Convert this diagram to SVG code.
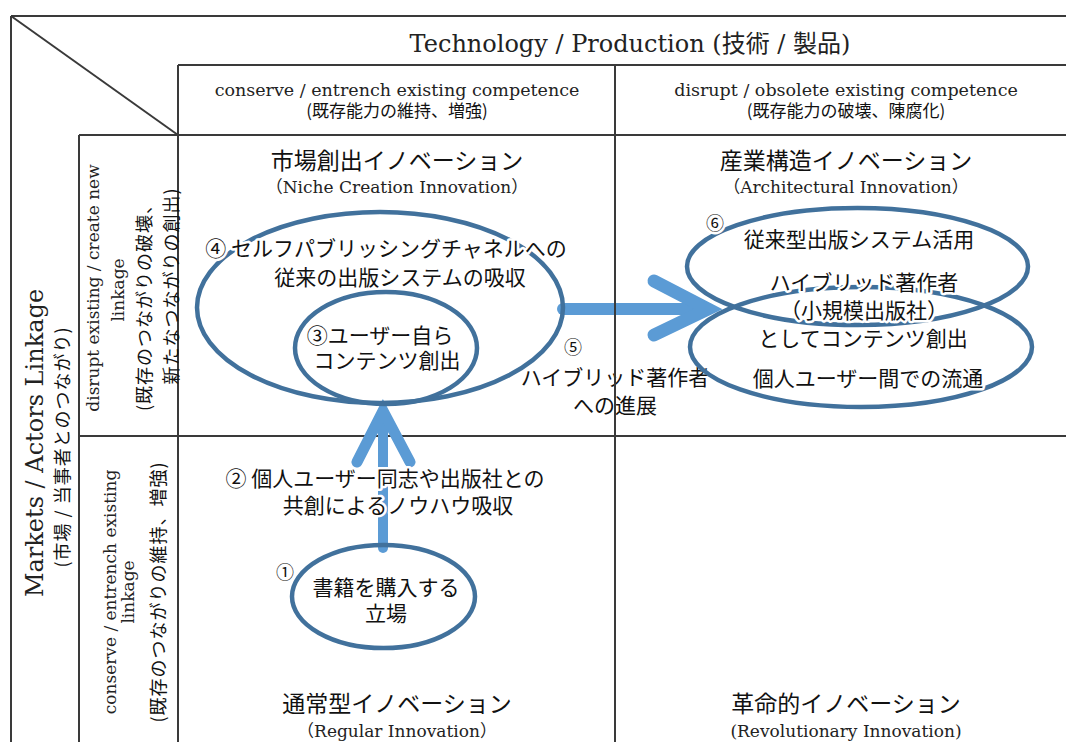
<svg xmlns="http://www.w3.org/2000/svg" width="1066" height="742" viewBox="0 0 1066 742">
<style>
.grid{stroke:#3a3a3a;stroke-width:2;fill:none}
.ser{font-family:"DejaVu Serif","Liberation Serif","Noto Sans CJK JP",serif;fill:#222}
.jp{font-family:"Noto Sans CJK JP","Noto Sans",sans-serif;fill:#111}
.mid{text-anchor:middle}
.ell{fill:none;stroke:#41719c;stroke-width:4.5}
.arr{fill:none;stroke:#5b9bd5;stroke-linecap:round;stroke-linejoin:miter}
.halo{stroke:#fff;stroke-width:5;stroke-linejoin:round;paint-order:stroke}
.sp{letter-spacing:1px}
</style>
<rect width="1066" height="742" fill="#fff"/>
<g id="grid-h">
<line class="grid" x1="11" y1="16" x2="1066" y2="16"/>
<line class="grid" x1="11" y1="16" x2="11" y2="742"/>
<line class="grid" x1="11" y1="16" x2="178" y2="135" stroke-width="1.6"/>
<line class="grid" x1="178" y1="65" x2="1066" y2="65"/>
<line class="grid" x1="79" y1="135" x2="1066" y2="135"/>
<line class="grid" x1="79" y1="436" x2="1066" y2="436"/>
<line class="grid" x1="79" y1="135" x2="79" y2="742"/>
<line class="grid" x1="178" y1="65" x2="178" y2="742"/>
</g>
<g id="headers">
<text class="ser mid" x="630" y="52" font-size="24">Technology / Production (技術 / 製品)</text>
<text class="ser mid" x="397" y="96" font-size="17.5">conserve / entrench existing competence</text>
<text class="jp mid" x="397" y="117" font-size="17">(既存能力の維持、増強)</text>
<text class="ser mid" x="846" y="96" font-size="17.5">disrupt / obsolete existing competence</text>
<text class="jp mid" x="846" y="117" font-size="17">(既存能力の破壊、陳腐化)</text>
<text class="ser mid" x="43" y="443" font-size="24" transform="rotate(-90 43 443)">Markets / Actors Linkage</text>
<text class="jp mid sp" x="69" y="447" font-size="18" transform="rotate(-90 69 447)">(市場 / 当事者とのつながり)</text>
<text class="ser mid" x="99" y="288" font-size="17" transform="rotate(-90 99 288)">disrupt existing / create new</text>
<text class="ser mid" x="124" y="290" font-size="17" transform="rotate(-90 124 290)">linkage</text>
<text class="jp mid sp" x="151" y="303" font-size="18" transform="rotate(-90 151 303)">(既存のつながりの破壊、</text>
<text class="jp mid sp" x="178" y="286" font-size="18" transform="rotate(-90 178 286)">新たなつながりの創出)</text>
<text class="ser mid" x="116" y="592" font-size="17" transform="rotate(-90 116 592)">conserve / entrench existing</text>
<text class="ser mid" x="134" y="592" font-size="17" transform="rotate(-90 134 592)">linkage</text>
<text class="jp mid sp" x="165" y="592" font-size="18" transform="rotate(-90 165 592)">(既存のつながりの維持、増強)</text>
</g>
<g id="cell-titles">
<text class="jp mid" x="397" y="169" font-size="23">市場創出イノベーション</text>
<text class="ser mid" x="397" y="193" font-size="17">（Niche Creation Innovation）</text>
<text class="jp mid" x="846" y="169" font-size="23">産業構造イノベーション</text>
<text class="ser mid" x="846" y="193" font-size="17">（Architectural Innovation）</text>
<text class="jp mid" x="397" y="712" font-size="23">通常型イノベーション</text>
<text class="ser mid" x="397" y="737" font-size="17">（Regular Innovation）</text>
<text class="jp mid" x="846" y="712" font-size="23">革命的イノベーション</text>
<text class="ser mid" x="846" y="737" font-size="17">(Revolutionary Innovation)</text>
</g>
<g id="connectors">
<line class="arr" x1="383" y1="548" x2="383" y2="414" stroke-width="10"/>
<polyline class="arr" points="357,462 383,411 410,462" stroke-width="11"/>
<line class="arr" x1="563" y1="309" x2="704" y2="309" stroke-width="12"/>
<polyline class="arr" points="654,281 708,309 654,335" stroke-width="13"/>
<text class="jp mid halo" x="385" y="486" font-size="21">② 個人ユーザー同志や出版社との</text>
<text class="jp mid halo" x="398" y="513" font-size="21">共創によるノウハウ吸収</text>
<text class="jp halo" x="564" y="354" font-size="18">⑤</text>
<text class="jp mid halo" x="615" y="385" font-size="21">ハイブリッド著作者</text>
<text class="jp mid halo" x="615" y="413" font-size="21">への進展</text>
</g>
<g id="grid-v">
<line class="grid" x1="615" y1="65" x2="615" y2="742"/>
</g>
<g id="node4">
<ellipse class="ell" cx="380" cy="307.5" rx="183" ry="95.5"/>
<text class="jp mid halo" x="386" y="256" font-size="21">④ セルフパブリッシングチャネルへの</text>
<text class="jp mid halo" x="400" y="285" font-size="21">従来の出版システムの吸収</text>
</g>
<g id="node3">
<ellipse class="ell" cx="386" cy="348" rx="91" ry="56"/>
<text class="jp mid halo" x="380" y="343" font-size="21">③ユーザー自ら</text>
<text class="jp mid halo" x="387" y="368" font-size="21">コンテンツ創出</text>
</g>
<g id="node1">
<ellipse class="ell" cx="383.5" cy="596.5" rx="91.5" ry="51.5"/>
<text class="jp halo" x="276" y="579" font-size="18">①</text>
<text class="jp mid halo" x="386" y="595" font-size="21">書籍を購入する</text>
<text class="jp mid halo" x="386" y="621" font-size="21">立場</text>
</g>
<g id="node6">
<ellipse class="ell" cx="857.5" cy="266.5" rx="170.5" ry="58.5"/>
<ellipse class="ell" cx="861" cy="347" rx="171" ry="60"/>
<text class="jp halo" x="706" y="230" font-size="18">⑥</text>
<text class="jp mid halo" x="859" y="247" font-size="21">従来型出版システム活用</text>
<text class="jp mid halo" x="864" y="290" font-size="21">ハイブリッド著作者</text>
<text class="jp mid halo" x="864" y="318" font-size="21">（小規模出版社）</text>
<text class="jp mid halo" x="863" y="346" font-size="21">としてコンテンツ創出</text>
<text class="jp mid halo" x="868" y="386" font-size="21">個人ユーザー間での流通</text>
</g>
</svg>
